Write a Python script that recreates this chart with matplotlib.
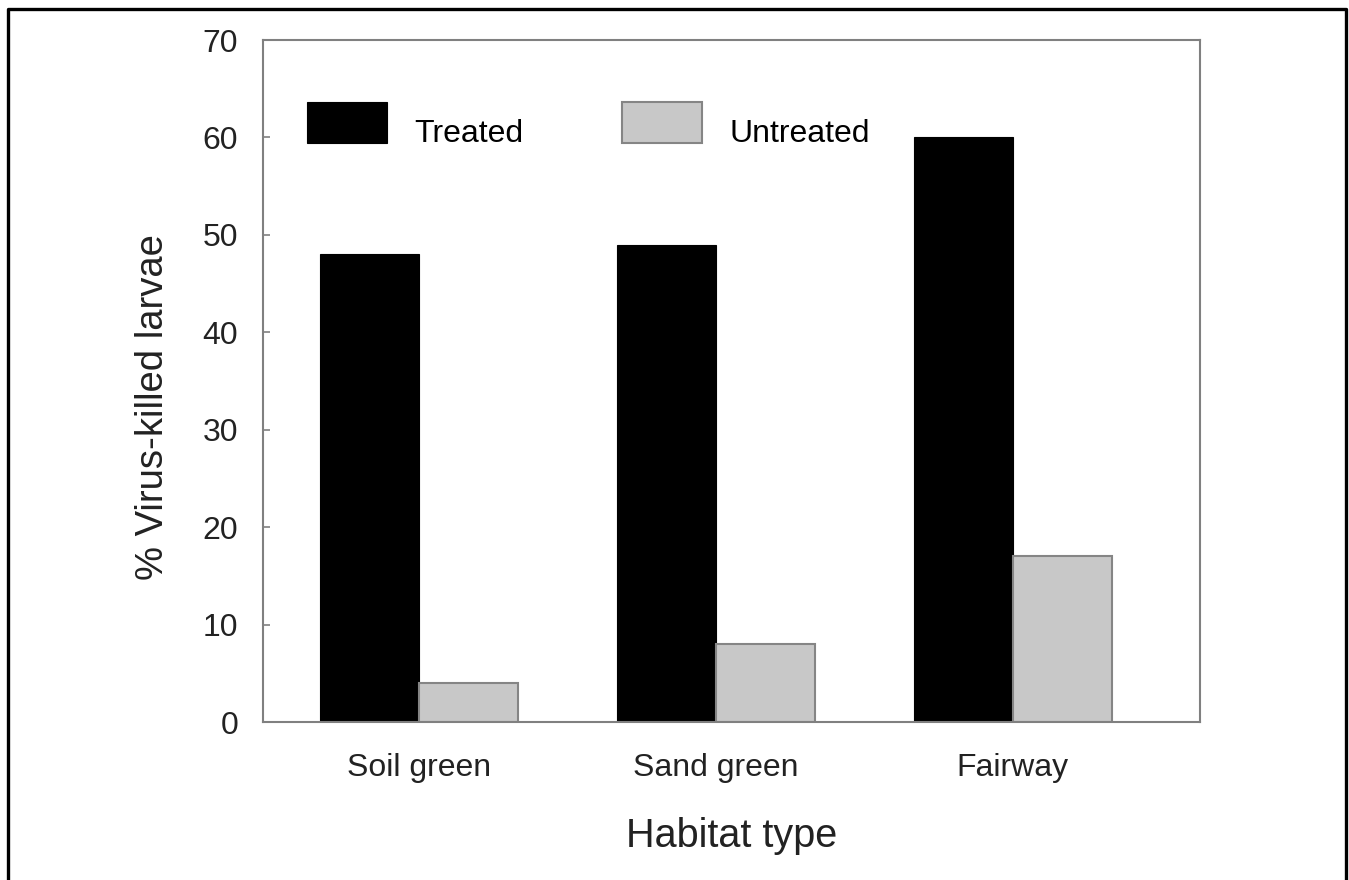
import numpy as np
import matplotlib
matplotlib.use('Agg')
import matplotlib.pyplot as plt
from matplotlib.lines import Line2D
from matplotlib.transforms import ScaledTranslation

plt.rcParams['font.family'] = ['Liberation Sans', 'DejaVu Sans']

habitats = ['Soil green', 'Sand green', 'Fairway']
treated = [48, 49, 60]
untreated = [4, 8, 17]

fig = plt.figure(figsize=(13.49, 8.80), dpi=100)
ax = fig.add_axes([263 / 1349, 1 - 722 / 880, 937 / 1349, 682 / 880])

x = np.arange(len(habitats))
w = 0.333
ax.bar(x - w / 2, treated, w, color='black', edgecolor='black', linewidth=0.8, label='Treated')
ax.bar(x + w / 2, untreated, w, color='#c8c8c8', edgecolor='#858585', linewidth=1.5, label='Untreated')

ax.set_xlim(-0.525, 2.63)
ax.set_ylim(0, 70)
ax.set_yticks(range(0, 71, 10))
ax.set_xticks(x)
ax.set_xticklabels(habitats)

for s in ax.spines.values():
    s.set_color('#808080')
    s.set_linewidth(1.5)

ax.tick_params(axis='y', direction='in', length=5, width=1.2, color='#808080',
               labelsize=23, pad=18, labelcolor='#222222')
ax.tick_params(axis='x', length=0, labelsize=23, pad=22, labelcolor='#222222')

ax.set_xlabel('Habitat type', fontsize=28.5, labelpad=25, color='#222222')
ax.set_ylabel('% Virus-killed larvae', fontsize=27.5, color='#222222')
ax.yaxis.set_label_coords((171 - 263) / 937, (722 - 407) / 682)

leg = ax.legend(loc='upper left', bbox_to_anchor=(44 / 937, 1 - 62 / 682), ncol=2,
                frameon=False, fontsize=23, handlelength=2.5, handleheight=1.6,
                handletextpad=0.85, columnspacing=3.1, borderpad=0, borderaxespad=0)
# labels sit low beside the boxes, as in the original
for t in leg.get_texts():
    t.set_transform(t.get_transform() + ScaledTranslation(0, -0.09, fig.dpi_scale_trans))

# outer frame (left, top, right)
fig.add_artist(Line2D([8 / 1349, 8 / 1349, 1346 / 1349, 1346 / 1349],
                      [0, 1 - 9 / 880, 1 - 9 / 880, 0],
                      color='black', linewidth=2.4, transform=fig.transFigure))

fig.savefig('out.png', dpi=100)
